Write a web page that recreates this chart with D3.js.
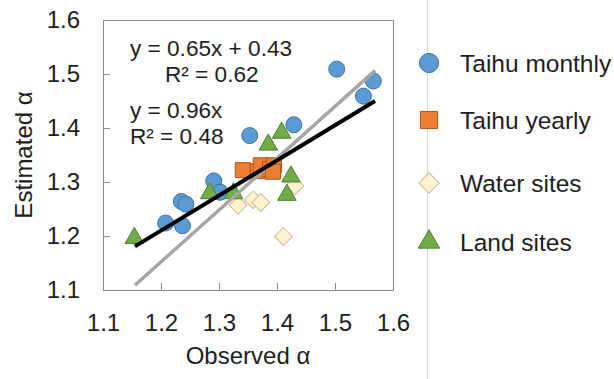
<!DOCTYPE html>
<html>
<head>
<meta charset="utf-8">
<script src="https://cdn.jsdelivr.net/npm/d3@7"></script>
<style>
  html, body { margin: 0; padding: 0; background: #fff; }
  svg { display: block; font-family: "Liberation Sans", Arial, sans-serif; }
</style>
</head>
<body>
<svg id="chart" width="614" height="379"></svg>
<script>
// ---- data ----
const xTicks = [1.1, 1.2, 1.3, 1.4, 1.5, 1.6];
const yTicks = [1.1, 1.2, 1.3, 1.4, 1.5, 1.6];

const seriesNames = ["Taihu monthly", "Taihu yearly", "Water sites", "Land sites"];

const taihuMonthlyObs = [1.503, 1.566, 1.549, 1.429, 1.353, 1.291, 1.302, 1.235, 1.243, 1.208, 1.237];
const taihuMonthlyEst = [1.509, 1.487, 1.459, 1.406, 1.386, 1.302, 1.281, 1.264, 1.259, 1.224, 1.219];

const taihuYearlyObs = [1.341, 1.367, 1.372, 1.388, 1.395, 1.393];
const taihuYearlyEst = [1.322, 1.320, 1.331, 1.324, 1.331, 1.319];

const waterObs = [1.333, 1.359, 1.372, 1.411, 1.431];
const waterEst = [1.257, 1.267, 1.262, 1.199, 1.293];

const landObs = [1.154, 1.284, 1.325, 1.385, 1.408, 1.424, 1.417];
const landEst = [1.196, 1.279, 1.279, 1.369, 1.391, 1.310, 1.276];

// fit lines: [slope, intercept], drawn over observed range
const fitLinear = [0.65, 0.43];
const fitOrigin = [0.96, 0];
const fitRange = [1.155, 1.569];

const eqLabels = ["y = 0.65x + 0.43", "R² = 0.62", "y = 0.96x", "R² = 0.48"];

// ---- drawing ----
const svg = d3.select("#chart");
const x = d3.scaleLinear().domain([1.1, 1.6]).range([103, 393]);
const y = d3.scaleLinear().domain([1.1, 1.6]).range([290, 20]);

const textColor = "#1e1e1e";
const frameColor = "#8c8c8c";

// legend separator line
svg.append("line")
  .attr("x1", 427.5).attr("x2", 427.5).attr("y1", 0).attr("y2", 379)
  .attr("stroke", "#d9d9d9").attr("stroke-width", 1);

// axes
const fmt = d3.format(".1f");
const xAxis = svg.append("g").attr("transform", "translate(0,290)")
  .call(d3.axisBottom(x).tickValues(xTicks).tickFormat(fmt).tickSize(-7).tickPadding(24));
const yAxis = svg.append("g").attr("transform", "translate(103,0)")
  .call(d3.axisLeft(y).tickValues(yTicks).tickFormat(fmt).tickSize(-7).tickPadding(23));
[xAxis, yAxis].forEach(g => {
  g.select(".domain").remove();
  g.selectAll(".tick line").attr("stroke", frameColor).attr("stroke-width", 1);
  g.selectAll(".tick text").attr("fill", textColor)
    .style("font-size", "24px").style("font-family", "Liberation Sans, Arial, sans-serif");
});

// frame
svg.append("rect")
  .attr("x", x(1.1) + 0.5).attr("y", y(1.6) + 0.5)
  .attr("width", x(1.6) - x(1.1)).attr("height", y(1.1) - y(1.6))
  .attr("fill", "none").attr("stroke", frameColor).attr("stroke-width", 1);

// axis titles
svg.append("text")
  .attr("x", (x(1.1) + x(1.6)) / 2).attr("y", 364)
  .attr("text-anchor", "middle").attr("fill", textColor)
  .style("font-size", "24px").text("Observed α");
svg.append("text")
  .attr("transform", `translate(32,${(y(1.1) + y(1.6)) / 2}) rotate(-90)`)
  .attr("text-anchor", "middle").attr("fill", textColor)
  .style("font-size", "24px").text("Estimated α");

// series styles
const styles = [
  { type: d3.symbolCircle, size: 201, fill: "#5b9bd5", stroke: "#41719c", rot: 0 },
  { type: d3.symbolSquare, size: 225, fill: "#ed7d31", stroke: "#ae5a21", rot: 0 },
  { type: d3.symbolSquare, size: 160, fill: "#fff2cc", stroke: "#c9bb98", rot: 45 },
  { type: d3.symbolTriangle, size: 150, fill: "#70ad47", stroke: "#507e32", rot: 0 }
];
const seriesData = [
  d3.zip(taihuMonthlyObs, taihuMonthlyEst),
  d3.zip(taihuYearlyObs, taihuYearlyEst),
  d3.zip(waterObs, waterEst),
  d3.zip(landObs, landEst)
];

seriesData.forEach((pts, i) => {
  const s = styles[i];
  svg.append("g").selectAll("path").data(pts).join("path")
    .attr("d", d3.symbol().type(s.type).size(s.size))
    .attr("transform", d => `translate(${x(d[0])},${y(d[1])}) rotate(${s.rot})`)
    .attr("fill", s.fill).attr("stroke", s.stroke).attr("stroke-width", 1);
});

// fit lines
const line = d3.line().x(d => x(d[0])).y(d => y(d[1]));
svg.append("path")
  .attr("d", line(fitRange.map(v => [v, fitOrigin[0] * v + fitOrigin[1]])))
  .attr("stroke", "#a6a6a6").attr("stroke-width", 3.5).attr("fill", "none");
svg.append("path")
  .attr("d", line(fitRange.map(v => [v, fitLinear[0] * v + fitLinear[1]])))
  .attr("stroke", "#000").attr("stroke-width", 4).attr("fill", "none");

// equations
const eqPos = [[130, 56], [165, 82], [130, 118], [130, 144]];
eqLabels.forEach((t, i) => {
  svg.append("text").attr("x", eqPos[i][0]).attr("y", eqPos[i][1])
    .attr("fill", textColor).style("font-size", "22.6px").text(t);
});

// legend
const legendY = [63, 120, 183, 242];
seriesNames.forEach((name, i) => {
  const s = styles[i];
  svg.append("path")
    .attr("d", d3.symbol().type(s.type).size(i === 0 ? 290 : s.size * 1.3))
    .attr("transform", `translate(429,${legendY[i]}) rotate(${s.rot})`)
    .attr("fill", s.fill).attr("stroke", s.stroke).attr("stroke-width", 1);
  svg.append("text").attr("x", 460).attr("y", legendY[i] + 8.5)
    .attr("fill", textColor).style("font-size", "24.5px").text(name);
});
</script>
</body>
</html>
